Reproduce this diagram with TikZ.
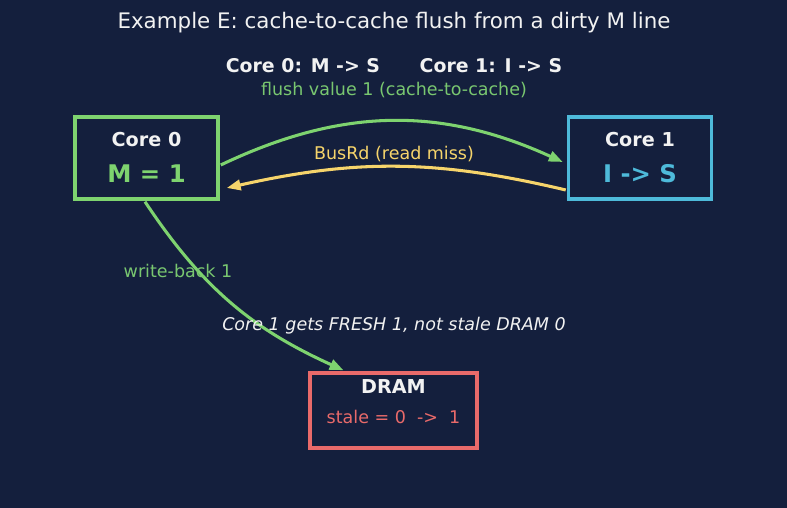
\documentclass[tikz,border=0pt]{standalone}
\usepackage{fontspec}
\setmainfont{DejaVu Sans}
\usepackage{xcolor}
\definecolor{NightBg}{HTML}{141F3D}
\definecolor{CoreGreen}{HTML}{7ED36F}
\definecolor{SoftGreen}{HTML}{79C770}
\definecolor{CoreBlue}{HTML}{4EBADA}
\definecolor{BusYellow}{HTML}{F6D46B}
\definecolor{DramRed}{HTML}{E96A6A}
\definecolor{PaleWhite}{HTML}{F2F2F2}
\usepackage{tikz}
\usetikzlibrary{arrows.meta,positioning}

\begin{document}
\begin{tikzpicture}[x=0.72pt,y=0.72pt,
  cachebox/.style={draw,line width=2.5pt,minimum width=103pt,minimum height=59pt,inner sep=0pt},
  boxhead/.style={font=\bfseries\fontsize{13.8}{16}\selectfont,text=PaleWhite},
  boxval/.style={font=\bfseries\fontsize{17.5}{20}\selectfont},
  note/.style={font=\fontsize{12.6}{15}\selectfont},
  arr/.style={-{Triangle[length=10pt,width=7.5pt]},line width=2.2pt}
]
  \fill[NightBg] (0,0) rectangle (787,508);
  \useasboundingbox (0,0) rectangle (787,508);

  % titles
  \node[font=\fontsize{15.4}{18}\selectfont,text=PaleWhite] (title) at (394,485) {Example E: cache-to-cache flush from a dirty M line};
  \node[boxhead,font=\bfseries\fontsize{13.6}{16}\selectfont] (states) at (394,442) {Core 0: M -> S\hspace{2.1em}Core 1: I -> S};
  \node[note,text=SoftGreen] (flush) at (394,418) {flush value 1 (cache-to-cache)};

  % caches and memory
  \node[cachebox,draw=CoreGreen] (c0) at (146.5,350) {};
  \node[cachebox,draw=CoreBlue] (c1) at (640,350) {};
  \node[cachebox,draw=DramRed,minimum width=120pt,minimum height=54pt] (dram) at (393.5,97.5) {};
  \node[boxhead] (c0name) at (146.5,368) {Core 0};
  \node[boxval,text=CoreGreen] (c0val) at (146.5,334) {M = 1};
  \node[boxhead] (c1name) at (640,368) {Core 1};
  \node[boxval,text=CoreBlue] (c1val) at (640,334) {I -> S};
  \node[boxhead] (dramname) at (393.5,121) {DRAM};
  \node[note,text=DramRed] (dramval) at (393.5,91) {stale = 0\ \ ->\ \ 1};

  % transfers
  \draw[arr,CoreGreen] ([shift={(1,-7)}]c0.east) to[bend left=25] ([shift={(-4,-4)}]c1.west);
  \draw[arr,BusYellow] ([shift={(-1,-32)}]c1.west) to[bend right=13] ([shift={(7,-30)}]c0.east);
  \draw[arr,CoreGreen] ([shift={(-1.5,-1)}]c0.south) to[bend right=16] ([shift={(-50,1)}]dram.north);

  \node[note,text=BusYellow] (busrd) at (394,354) {BusRd (read miss)};
  \node[note,text=SoftGreen] (wb) at (178,237) {write-back 1};
  \node[note,font=\itshape\fontsize{12.6}{15}\selectfont,text=PaleWhite] (fresh) at (394,182) {Core 1 gets FRESH 1, not stale DRAM 0};
\end{tikzpicture}
\end{document}
